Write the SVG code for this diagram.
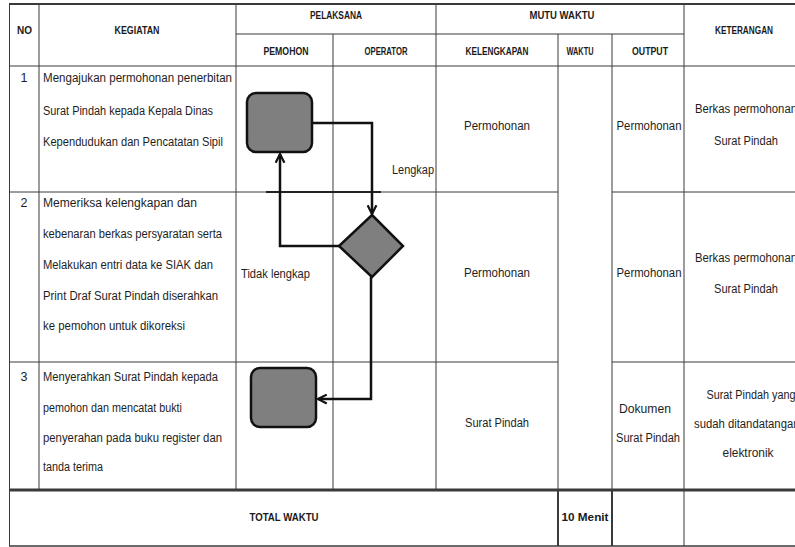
<svg xmlns="http://www.w3.org/2000/svg" width="795" height="547" viewBox="0 0 795 547">
<style>
.g{stroke:#3a3a3a;stroke-width:1;fill:none}
.h{font-family:"Liberation Sans",Arial,sans-serif;font-weight:bold;font-size:11.5px;fill:#1a1a1a;text-anchor:middle}
.t{font-family:"Liberation Sans",Arial,sans-serif;font-size:12.5px;fill:#1e1e1e}
.c{text-anchor:middle}
.s{fill:#7f7f7f;stroke:#111;stroke-width:2.5}
.k{fill:none;stroke:#111;stroke-width:2.5;stroke-linejoin:miter}
</style>
<defs>
<marker id="ar" viewBox="0 0 10 10" refX="9" refY="5" markerWidth="4.4" markerHeight="4.4" orient="auto" markerUnits="strokeWidth">
<path d="M1,1 L9,5 L1,9" fill="none" stroke="#111" stroke-width="2"/>
</marker>
</defs>
<rect width="795" height="547" fill="#fff"/>
<g id="table">
<line class="g" x1="9" y1="4" x2="800" y2="4" style="stroke-width:2.2"/>
<line class="g" x1="236" y1="34" x2="684" y2="34"/>
<line class="g" x1="9" y1="66" x2="800" y2="66"/>
<line class="g" x1="9" y1="192" x2="558" y2="192"/>
<line class="g" x1="612" y1="192" x2="800" y2="192"/>
<line class="g" x1="9" y1="362" x2="558" y2="362"/>
<line class="g" x1="612" y1="362" x2="800" y2="362"/>
<line class="g" x1="9" y1="490" x2="800" y2="490" style="stroke-width:2.8"/>
<line class="g" x1="9" y1="546" x2="800" y2="546" style="stroke-width:1.6"/>
<line class="g" x1="9.5" y1="4" x2="9.5" y2="546"/>
<line class="g" x1="39" y1="4" x2="39" y2="490"/>
<line class="g" x1="236" y1="4" x2="236" y2="490"/>
<line class="g" x1="333" y1="34" x2="333" y2="490"/>
<line class="g" x1="436" y1="4" x2="436" y2="490"/>
<line class="g" x1="558" y1="34" x2="558" y2="490"/>
<line class="g" x1="612" y1="34" x2="612" y2="490"/>
<line class="g" x1="558" y1="490" x2="558" y2="546" style="stroke-width:2"/>
<line class="g" x1="612" y1="490" x2="612" y2="546" style="stroke-width:2"/>
<line class="g" x1="684" y1="4" x2="684" y2="546"/>
<line class="g" x1="266" y1="192" x2="381" y2="192" style="stroke-width:1.8;stroke:#222"/>
</g>
<g id="header">
<text class="h" x="24.5" y="34" textLength="15" lengthAdjust="spacingAndGlyphs">NO</text>
<text class="h" x="137" y="34" textLength="45" lengthAdjust="spacingAndGlyphs">KEGIATAN</text>
<text class="h" x="336" y="19" textLength="52" lengthAdjust="spacingAndGlyphs">PELAKSANA</text>
<text class="h" x="286" y="55" textLength="45" lengthAdjust="spacingAndGlyphs">PEMOHON</text>
<text class="h" x="386" y="55" textLength="43" lengthAdjust="spacingAndGlyphs">OPERATOR</text>
<text class="h" x="562" y="19" textLength="65" lengthAdjust="spacingAndGlyphs">MUTU WAKTU</text>
<text class="h" x="497" y="55" textLength="63" lengthAdjust="spacingAndGlyphs">KELENGKAPAN</text>
<text class="h" x="580" y="55" textLength="27" lengthAdjust="spacingAndGlyphs">WAKTU</text>
<text class="h" x="650" y="55" textLength="36" lengthAdjust="spacingAndGlyphs">OUTPUT</text>
<text class="h" x="744" y="34" textLength="58" lengthAdjust="spacingAndGlyphs">KETERANGAN</text>
</g>
<g id="row1">
<text class="t c" x="24" y="82">1</text>
<text class="t" x="43" y="82" textLength="189" lengthAdjust="spacingAndGlyphs">Mengajukan permohonan penerbitan</text>
<text class="t" x="43" y="115" textLength="170" lengthAdjust="spacingAndGlyphs">Surat Pindah kepada Kepala Dinas</text>
<text class="t" x="43" y="146" textLength="180" lengthAdjust="spacingAndGlyphs">Kependudukan dan Pencatatan Sipil</text>
<text class="t c" x="497" y="130" textLength="66" lengthAdjust="spacingAndGlyphs">Permohonan</text>
<text class="t c" x="649" y="130" textLength="65" lengthAdjust="spacingAndGlyphs">Permohonan</text>
<text class="t c" x="746" y="113" textLength="102" lengthAdjust="spacingAndGlyphs">Berkas permohonan</text>
<text class="t c" x="746" y="145" textLength="64" lengthAdjust="spacingAndGlyphs">Surat Pindah</text>
<text class="t" x="434" y="174" text-anchor="end" textLength="42" lengthAdjust="spacingAndGlyphs">Lengkap</text>
</g>
<g id="row2">
<text class="t c" x="24" y="207">2</text>
<text class="t" x="43" y="207" textLength="154" lengthAdjust="spacingAndGlyphs">Memeriksa kelengkapan dan</text>
<text class="t" x="43" y="238" textLength="179" lengthAdjust="spacingAndGlyphs">kebenaran berkas persyaratan serta</text>
<text class="t" x="43" y="269" textLength="170" lengthAdjust="spacingAndGlyphs">Melakukan entri data ke SIAK dan</text>
<text class="t" x="43" y="300" textLength="175" lengthAdjust="spacingAndGlyphs">Print Draf Surat Pindah diserahkan</text>
<text class="t" x="43" y="330" textLength="142" lengthAdjust="spacingAndGlyphs">ke pemohon untuk dikoreksi</text>
<text class="t" x="241" y="278" textLength="69" lengthAdjust="spacingAndGlyphs">Tidak lengkap</text>
<text class="t c" x="497" y="277" textLength="66" lengthAdjust="spacingAndGlyphs">Permohonan</text>
<text class="t c" x="649" y="277" textLength="65" lengthAdjust="spacingAndGlyphs">Permohonan</text>
<text class="t c" x="746" y="262" textLength="102" lengthAdjust="spacingAndGlyphs">Berkas permohonan</text>
<text class="t c" x="746" y="293" textLength="64" lengthAdjust="spacingAndGlyphs">Surat Pindah</text>
</g>
<g id="row3">
<text class="t c" x="24" y="381">3</text>
<text class="t" x="43" y="381" textLength="175" lengthAdjust="spacingAndGlyphs">Menyerahkan Surat Pindah kepada</text>
<text class="t" x="43" y="412" textLength="139" lengthAdjust="spacingAndGlyphs">pemohon dan mencatat bukti</text>
<text class="t" x="43" y="442" textLength="179" lengthAdjust="spacingAndGlyphs">penyerahan pada buku register dan</text>
<text class="t" x="43" y="471" textLength="60" lengthAdjust="spacingAndGlyphs">tanda terima</text>
<text class="t c" x="497" y="427" textLength="64" lengthAdjust="spacingAndGlyphs">Surat Pindah</text>
<text class="t c" x="645" y="413" textLength="52" lengthAdjust="spacingAndGlyphs">Dokumen</text>
<text class="t c" x="648" y="442" textLength="64" lengthAdjust="spacingAndGlyphs">Surat Pindah</text>
<text class="t c" x="751" y="399" textLength="89" lengthAdjust="spacingAndGlyphs">Surat Pindah yang</text>
<text class="t c" x="748" y="428" textLength="108" lengthAdjust="spacingAndGlyphs">sudah ditandatangani</text>
<text class="t c" x="748" y="457" textLength="51" lengthAdjust="spacingAndGlyphs">elektronik</text>
</g>
<g id="total">
<text class="h" x="284" y="521" textLength="69" lengthAdjust="spacingAndGlyphs">TOTAL  WAKTU</text>
<text class="h" x="585" y="521" textLength="47" lengthAdjust="spacingAndGlyphs">10 Menit</text>
</g>
<g id="connectors">
<path class="k" d="M312,123 H372 V214" marker-end="url(#ar)"/>
<path class="k" d="M339,246 H280 V154" marker-end="url(#ar)"/>
<path class="k" d="M371,277 V399 H318" marker-end="url(#ar)"/>
</g>
<g id="node-start">
<rect class="s" x="247" y="93" width="65" height="59" rx="9"/>
</g>
<g id="node-decision">
<polygon class="s" points="372,215 403,246 372,277 339,246"/>
</g>
<g id="node-end">
<rect class="s" x="251" y="368" width="65" height="59" rx="9"/>
</g>
</svg>
